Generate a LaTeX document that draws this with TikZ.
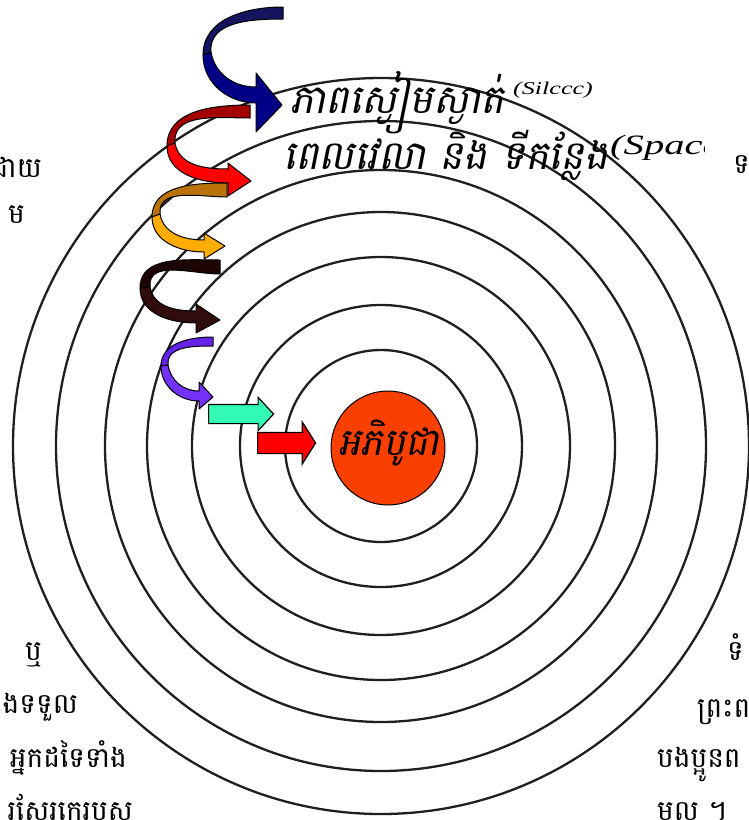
\documentclass[tikz,border=0pt]{standalone}
\usepackage{fontspec}
\newfontfamily\khmer[Script=Khmer]{Battambang}
\newfontfamily\khmerit[Script=Khmer,FakeSlant=0.2]{Battambang}
\newfontfamily\latinwide[FakeStretch=1.45]{Liberation Serif}
\usetikzlibrary{shapes.arrows}

\definecolor{coreorange}{RGB}{250,64,0}
\definecolor{navyback}{RGB}{20,20,95}
\definecolor{navyfront}{RGB}{0,0,135}
\definecolor{redback}{RGB}{165,0,0}
\definecolor{redfront}{RGB}{255,0,0}
\definecolor{amberback}{RGB}{185,115,10}
\definecolor{amberfront}{RGB}{255,172,0}
\definecolor{darkback}{RGB}{30,5,5}
\definecolor{darkfront}{RGB}{48,12,12}
\definecolor{violetback}{RGB}{100,35,230}
\definecolor{violetfront}{RGB}{115,50,245}
\definecolor{aquaarrow}{RGB}{50,250,180}

\begin{document}
\begin{tikzpicture}[
  x=1pt, y=-1pt,
  ring/.style={draw=black!88,line width=2.3pt},
  ribbon/.style={draw=black,line width=1pt,line join=round},
  flatarrow/.style={single arrow,draw=black,line width=1.2pt,inner xsep=0pt,
    single arrow head indent=0pt},
  sidetext/.style={font=\khmer\fontsize{28}{32}\selectfont,inner sep=0pt},
  ringtext/.style={font=\khmerit\fontsize{40}{44}\selectfont,inner sep=0pt},
  entext/.style={font=\latinwide\itshape,inner sep=0pt}
]
  \useasboundingbox (0,0) rectangle (748,820);

  % target rings round the centre
  \coordinate (hub) at (381,446);
  \foreach \r in {96,141,189,234,276,325,368}
    \draw[ring] (hub) circle[radius=\r pt];

  \node[circle,fill=coreorange,draw=black,line width=1pt,minimum size=114pt,
        inner sep=0pt] (core) at (388,448) {};
  \node[font=\khmerit\fontsize{38}{42}\selectfont,inner sep=0pt,anchor=base]
    (corelabel) at (389,455) {អភិបូជា};

  % labels on the outer rings
  \node[ringtext,anchor=base west] (silence) at (290,113) {ភាពស្ងៀមស្ងាត់};
  \node[entext,font=\latinwide\itshape\fontsize{18}{20}\selectfont,anchor=base west]
    (silenceen) at (513,94) {(Silccc)};
  \node[ringtext,anchor=base west] (spacetime) at (283,169) {ពេលវេលា និង ទីកន្លែង};
  \begin{scope}
    \clip (600,120) rectangle (704,175);
    \node[entext,font=\latinwide\itshape\fontsize{28}{30}\selectfont,anchor=base west]
      (spaceen) at (610,154) {(Space};
  \end{scope}

  % cut-off text at the sides
  \node[sidetext,anchor=base east] (tl1) at (42,177) {ដោយ};
  \node[sidetext,anchor=base east] (tl2) at (25,223) {ម};
  \node[sidetext,anchor=base west] (tr1) at (733,173) {ទ};
  \node[sidetext,anchor=base east] (bl1) at (42,660) {ឬ};
  \node[sidetext,anchor=base east] (bl2) at (78,713) {ងទទួល};
  \node[sidetext,anchor=base east] (bl3) at (127,767) {អ្នកដទៃទាំង};
  \node[sidetext,anchor=base east] (bl4) at (133,820) {រសែរកេរបស};
  \node[sidetext,anchor=base west] (br1) at (727,660) {ទំ};
  \node[sidetext,anchor=base west] (br2) at (697,717) {ព្រះព};
  \node[sidetext,anchor=base west] (br3) at (657,767) {បងប្អូនព};
  \node[sidetext,anchor=base west] (br4) at (657,820) {មល ។};

  % curled arrows, back half then front half
  \path[ribbon,fill=navyback] (283,7) to[out=180,in=90] (203,55) -- (211,52)
    to[out=95,in=180] (283,19) -- cycle;
  \path[ribbon,fill=navyfront] (203,55) to[out=-90,in=180] (256,103) -- (256,132)
    -- (282,105) -- (256,73) -- (256,87) to[out=180,in=-80] (211,52) -- cycle;

  \path[ribbon,fill=redback] (250,105) to[out=180,in=90] (167,146) -- (175,143)
    to[out=95,in=180] (250,118) -- cycle;
  \path[ribbon,fill=redfront] (167,146) to[out=-90,in=180] (228,183) -- (228,196)
    -- (251,181) -- (228,163) -- (228,169) to[out=180,in=-80] (175,143) -- cycle;

  \path[ribbon,fill=amberback] (227,183) to[out=180,in=90] (152,217) -- (160,214)
    to[out=95,in=180] (227,197) -- cycle;
  \path[ribbon,fill=amberfront] (152,217) to[out=-90,in=180] (204,252) -- (204,259)
    -- (225,246) -- (204,233) -- (204,240) to[out=180,in=-80] (160,214) -- cycle;

  \path[ribbon,fill=darkback] (220,260) to[out=180,in=90] (140,288) -- (150,287)
    to[out=95,in=180] (220,274) -- cycle;
  \path[ribbon,fill=darkfront] (140,288) to[out=-90,in=180] (196,323) -- (196,333)
    -- (220,320) -- (196,304) -- (196,311) to[out=180,in=-80] (150,287) -- cycle;

  \path[ribbon,fill=violetback] (213,337) to[out=180,in=90] (161,366) -- (168,365)
    to[out=95,in=180] (213,346) -- cycle;
  \path[ribbon,fill=violetfront] (161,366) to[out=-90,in=180] (199,401) -- (199,409)
    -- (213,397) -- (199,382) -- (199,391) to[out=180,in=-80] (168,365) -- cycle;

  % straight arrows into the centre
  \node[flatarrow,fill=aquaarrow,minimum height=65pt,inner ysep=9pt,
        single arrow head extend=7pt,single arrow tip angle=94,anchor=tail]
    (aquastep) at (208,414) {};
  \node[flatarrow,fill=redfront,minimum height=58pt,inner ysep=10pt,
        single arrow head extend=10.5pt,single arrow tip angle=115,anchor=tail]
    (redstep) at (257,443) {};
\end{tikzpicture}
\end{document}
